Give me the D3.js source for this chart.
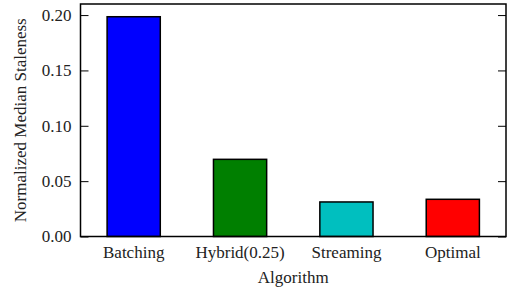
<!DOCTYPE html>
<html>
<head>
<meta charset="utf-8">
<script src="https://cdn.jsdelivr.net/npm/d3@7"></script>
<style>
  body { margin: 0; background: #fff; }
</style>
</head>
<body>
<figure id="bars" style="margin:0"></figure>
<script>
const algorithms = ["Batching", "Hybrid(0.25)", "Streaming", "Optimal"];
const staleness = [0.1985, 0.0697, 0.0312, 0.0336];
const barColors = ["#0000ff", "#007f00", "#00bfbf", "#ff0000"];
const yTicks = [0.00, 0.05, 0.10, 0.15, 0.20];

const serif = "'Liberation Serif', 'Times New Roman', Times, serif";
const width = 510, height = 292;
const plot = { left: 80.5, right: 506, top: 4, bottom: 236.5 };

const svg = d3.select("figure#bars")
  .append("svg")
  .attr("width", width)
  .attr("height", height);

const x = d3.scaleBand()
  .domain(algorithms)
  .range([plot.left, plot.right])
  .paddingInner(0.5)
  .paddingOuter(0.25);

const y = d3.scaleLinear()
  .domain([0, 0.21])
  .range([plot.bottom, plot.top]);

// bars
svg.append("g")
  .selectAll("rect")
  .data(algorithms)
  .enter()
  .append("rect")
  .attr("x", d => x(d))
  .attr("y", (d, i) => y(staleness[i]))
  .attr("width", x.bandwidth())
  .attr("height", (d, i) => y(0) - y(staleness[i]))
  .attr("fill", (d, i) => barColors[i])
  .attr("stroke", "#000")
  .attr("stroke-width", 1.5);

// y axis, ticks pointing inward
const yAxis = svg.append("g")
  .attr("transform", "translate(" + plot.left + ",0)")
  .call(d3.axisRight(y).tickValues(yTicks).tickFormat(d3.format(".2f")).tickSize(8));
yAxis.attr("font-family", serif).attr("font-size", 17);
yAxis.select(".domain").remove();
yAxis.selectAll("line").attr("stroke", "#000").attr("stroke-width", 1);
yAxis.selectAll("text")
  .attr("text-anchor", "end")
  .attr("x", -9)
  .attr("fill", "#222");

// right-side ticks
const yAxisR = svg.append("g")
  .attr("transform", "translate(" + plot.right + ",0)")
  .call(d3.axisLeft(y).tickValues(yTicks).tickFormat("").tickSize(8));
yAxisR.select(".domain").remove();
yAxisR.selectAll("line").attr("stroke", "#000").attr("stroke-width", 1);

// x axis labels
const xAxis = svg.append("g")
  .attr("transform", "translate(0," + plot.bottom + ")")
  .call(d3.axisBottom(x).tickSize(0).tickPadding(9));
xAxis.attr("font-family", serif).attr("font-size", 17);
xAxis.select(".domain").remove();
xAxis.selectAll("text").attr("fill", "#222");

// frame
svg.append("rect")
  .attr("x", plot.left)
  .attr("y", plot.top)
  .attr("width", plot.right - plot.left)
  .attr("height", plot.bottom - plot.top)
  .attr("fill", "none")
  .attr("stroke", "#000")
  .attr("stroke-width", 1.5);

// axis titles
svg.append("text")
  .attr("x", (plot.left + plot.right) / 2)
  .attr("y", 283)
  .attr("text-anchor", "middle")
  .attr("fill", "#222")
  .attr("font-family", serif)
  .attr("font-size", 17)
  .text("Algorithm");

svg.append("text")
  .attr("transform", "translate(26," + (plot.top + plot.bottom) / 2 + ")rotate(-90)")
  .attr("text-anchor", "middle")
  .attr("fill", "#222")
  .attr("font-family", serif)
  .attr("font-size", 17)
  .text("Normalized Median Staleness");
</script>
</body>
</html>
